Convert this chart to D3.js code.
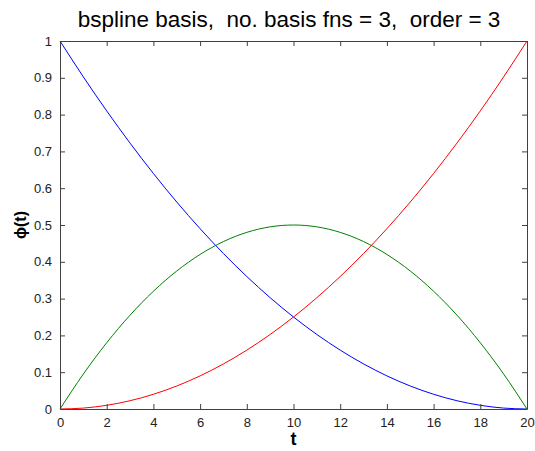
<!DOCTYPE html>
<html>
<head>
<meta charset="utf-8">
<script src="https://cdn.jsdelivr.net/npm/d3@7"></script>
<style>
  body { margin: 0; background: #fff; }
  svg { display: block; font-family: "Liberation Sans", Arial, sans-serif; }
</style>
</head>
<body>
<svg id="chart" width="535" height="451"></svg>
<script>
// values, t = 0..20
const tValues = [0,1,2,3,4,5,6,7,8,9,10,11,12,13,14,15,16,17,18,19,20]
const blueVals = [1,0.9025,0.81,0.7225,0.64,0.5625,0.49,0.4225,0.36,0.3025,0.25,0.2025,0.16,0.1225,0.09,0.0625,0.04,0.0225,0.01,0.0025,0]
const greenVals = [0,0.095,0.18,0.255,0.32,0.375,0.42,0.455,0.48,0.495,0.5,0.495,0.48,0.455,0.42,0.375,0.32,0.255,0.18,0.095,0]
const redVals = [0,0.0025,0.01,0.0225,0.04,0.0625,0.09,0.1225,0.16,0.2025,0.25,0.3025,0.36,0.4225,0.49,0.5625,0.64,0.7225,0.81,0.9025,1]
const xTicks = [0,2,4,6,8,10,12,14,16,18,20]
const yTicks = [0,0.1,0.2,0.3,0.4,0.5,0.6,0.7,0.8,0.9,1]

const margin = { left: 60, right: 8, top: 41, bottom: 42 }
const width = 535, height = 451
const axisColor = "#404040"

const svg = d3.select("#chart")

const x = d3.scaleLinear().domain([0, 20]).range([margin.left, width - margin.right])
const y = d3.scaleLinear().domain([0, 1]).range([height - margin.bottom, margin.top])

// the curves
const series = [
  { vals: blueVals, color: "#0000ff" },
  { vals: greenVals, color: "#008000" },
  { vals: redVals, color: "#ff0000" }
]
const line = d3.line()
  .x((d, i) => x(tValues[i]))
  .y(d => y(d))
  .curve(d3.curveMonotoneX)

svg.append("g")
  .selectAll("path")
  .data(series)
  .join("path")
  .attr("fill", "none")
  .attr("stroke", d => d.color)
  .attr("stroke-width", 1)
  .attr("d", d => line(d.vals))

// axes, ticks pointing inward on all four sides
function styleAxis(g) {
  g.select(".domain").attr("stroke", axisColor)
  g.selectAll(".tick line").attr("stroke", axisColor)
  g.selectAll(".tick text").attr("fill", "#222").attr("font-size", "13px")
}

svg.append("g")
  .attr("transform", `translate(0,${y(0)})`)
  .call(d3.axisBottom(x).tickValues(xTicks).tickSizeInner(-5).tickSizeOuter(0).tickPadding(9).tickFormat(d3.format("d")))
  .call(styleAxis)

svg.append("g")
  .attr("transform", `translate(0,${y(1)})`)
  .call(d3.axisTop(x).tickValues(xTicks).tickSizeInner(-5).tickSizeOuter(0).tickFormat(""))
  .call(styleAxis)

svg.append("g")
  .attr("transform", `translate(${x(0)},0)`)
  .call(d3.axisLeft(y).tickValues(yTicks).tickSizeInner(-5).tickSizeOuter(0).tickPadding(8).tickFormat(d => d3.format("")(+d.toFixed(1))))
  .call(styleAxis)

svg.append("g")
  .attr("transform", `translate(${x(20)},0)`)
  .call(d3.axisRight(y).tickValues(yTicks).tickSizeInner(-5).tickSizeOuter(0).tickFormat(""))
  .call(styleAxis)

// title and axis labels
svg.append("text")
  .attr("x", 289).attr("y", 27)
  .attr("text-anchor", "middle")
  .attr("font-size", "22.5px")
  .attr("fill", "#000")
  .style("white-space", "pre")
  .text("bspline basis,  no. basis fns = 3,  order = 3")

svg.append("text")
  .attr("x", (x(0) + x(20)) / 2).attr("y", 445)
  .attr("text-anchor", "middle")
  .attr("font-size", "18px")
  .attr("font-weight", "bold")
  .text("t")

svg.append("text")
  .attr("transform", `translate(26,${(y(0) + y(1)) / 2}) rotate(-90)`)
  .attr("text-anchor", "middle")
  .attr("font-size", "16px")
  .attr("font-weight", "bold")
  .text("ϕ(t)")
</script>
</body>
</html>
